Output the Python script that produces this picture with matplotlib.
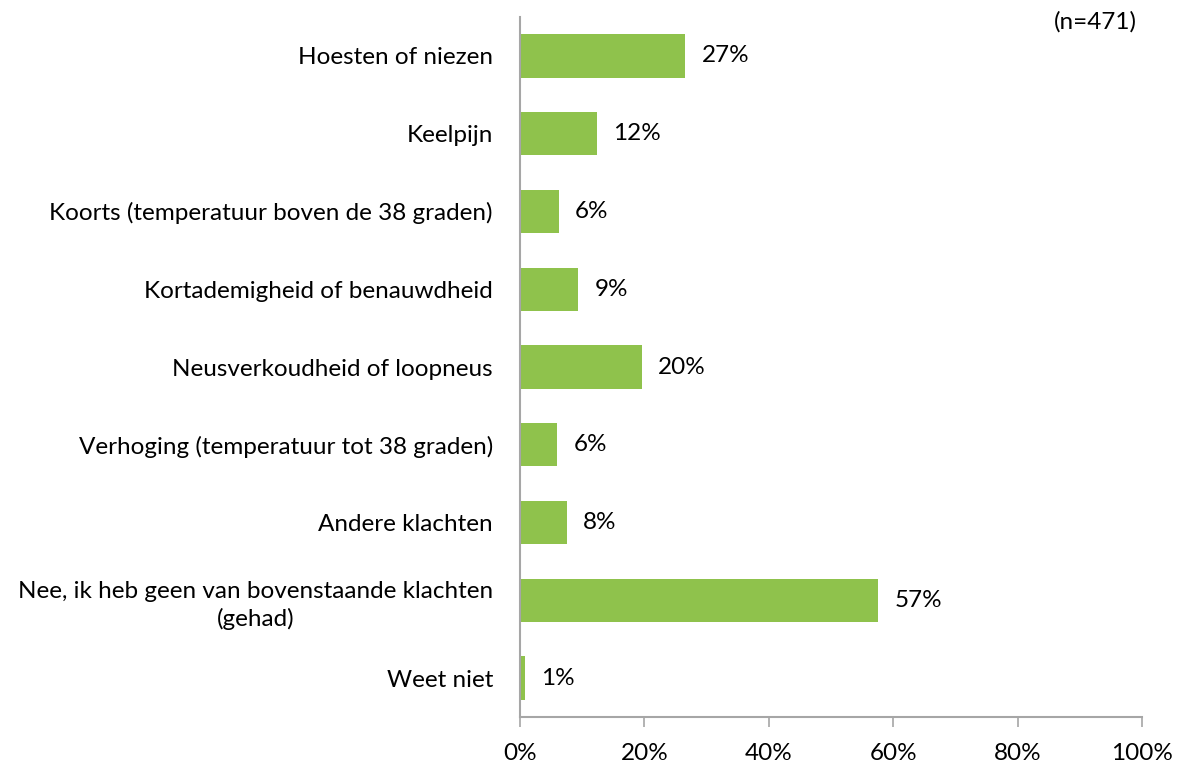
import matplotlib
matplotlib.use("Agg")
import matplotlib.pyplot as plt
from matplotlib.ticker import FuncFormatter

categories = [
    "Hoesten of niezen",
    "Keelpijn",
    "Koorts (temperatuur boven de 38 graden)",
    "Kortademigheid of benauwdheid",
    "Neusverkoudheid of loopneus",
    "Verhoging (temperatuur tot 38 graden)",
    "Andere klachten",
    "Nee, ik heb geen van bovenstaande klachten\n(gehad)",
    "Weet niet",
]
values = [26.6, 12.4, 6.2, 9.4, 19.6, 6.0, 7.6, 57.6, 0.8]
value_labels = ["27%", "12%", "6%", "9%", "20%", "6%", "8%", "57%", "1%"]
xticks = [0, 20, 40, 60, 80, 100]

plt.rcParams['font.family'] = ['Lato', 'DejaVu Sans']
fs = 17.5

fig = plt.figure(figsize=(11.8, 7.64), dpi=100)
ax = fig.add_axes([520/1180, 1-717/764, (1142-520)/1180, (717-17)/764])

n = len(categories)
ypos = list(range(n))
ax.barh(ypos, values, height=0.556, color="#8FC24C")
ax.set_ylim(n - 0.5, -0.5)
ax.set_xlim(0, 100)

for y, v, lab in zip(ypos, values, value_labels):
    ax.annotate(lab, (v, y), xytext=(16, 0), textcoords="offset pixels",
                va="center", ha="left", fontsize=fs, color="#000000")

ax.set_yticks(ypos)
ax.set_yticklabels(categories, fontsize=fs)
for t in ax.get_yticklabels():
    t.set_multialignment("center")
    t.set_linespacing(1.35)
ax.tick_params(axis="y", length=0, pad=19.5)
ax.set_xticks(xticks)
ax.xaxis.set_major_formatter(FuncFormatter(lambda x, p: f"{int(x)}%"))
ax.tick_params(axis="x", length=7, width=1.2, color="#A6A6A6", labelsize=fs, pad=12, direction="out")

for s in ["top", "right"]:
    ax.spines[s].set_visible(False)
for s in ["left", "bottom"]:
    ax.spines[s].set_color("#A6A6A6")
    ax.spines[s].set_linewidth(1.5)

fig.text(1137/1180, 1-22/764, "(n=471)", ha="right", va="center", fontsize=fs)

fig.savefig("out.png", dpi=100)
